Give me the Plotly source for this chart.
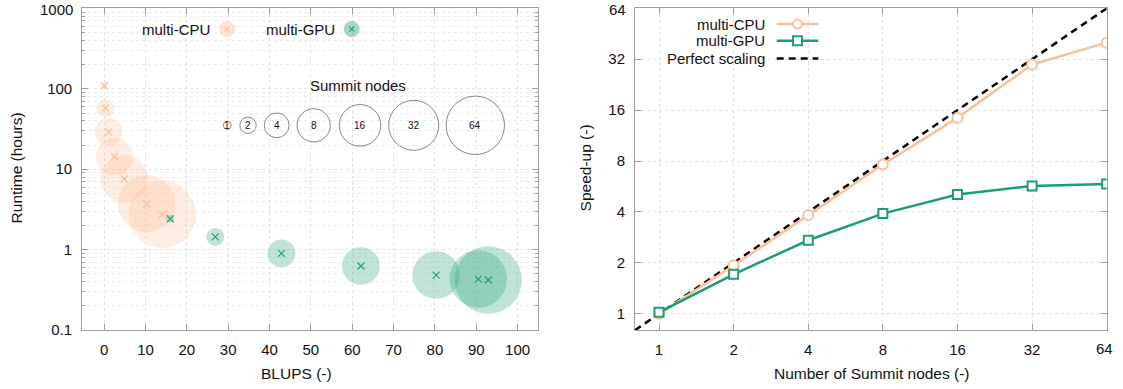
import math
import plotly.graph_objects as go

# ---------------- data ----------------
nodes = [1, 2, 4, 8, 16, 32, 64]
node_labels = ["1", "2", "4", "8", "16", "32", "64"]

cpu_blups = [0.07, 0.3, 1.1, 2.5, 4.9, 10.3, 14.1]
cpu_runtime = [108.6, 57.3, 29.0, 14.4, 7.6, 3.72, 2.74]
gpu_blups = [16.0, 26.9, 42.9, 62.1, 80.3, 90.5, 92.9]
gpu_runtime = [2.42, 1.44, 0.90, 0.627, 0.484, 0.432, 0.42]

cpu_speedup = [1.0, 1.93, 3.82, 7.63, 14.4, 29.8, 40.1]
gpu_speedup = [1.02, 1.71, 2.72, 3.91, 5.07, 5.70, 5.86]
perfect_nodes = [0.8, 64]
perfect_speedup = [0.8, 64]

runtime_ticks = [0.1, 1, 10, 100, 1000]
runtime_tick_text = ["0.1", "1", "10", "100", "1000"]

# ---------------- styles ----------------
W, H = 1114, 398          # figure size (captured area is rescaled to 1123x389)
REF_W, REF_H = 1114, 389  # reference-pixel coordinate frame
FONT = "Liberation Sans, Arial, sans-serif"
CPU_LINE = "#FBC09A"
CPU_X = "#F8BE9C"
CPU_FILL = "rgba(250,180,135,0.35)"
GPU = "#1b9e77"
GPU_FILL = "rgba(27,158,119,0.40)"
AXIS = "#a0a0a0"
GRID = "#e2e2e2"


def px(x):
    return x / REF_W


def py(y):
    return 1 - y / REF_H


def bubble_d(n):
    return 2 * (4 + 4.95 * math.log2(n))


def legend_r(n):
    return 4 + 4.2 * math.log2(n)


fig = go.Figure()

# ---------------- left panel ----------------
fig.add_trace(go.Scatter(
    x=cpu_blups, y=cpu_runtime, mode="markers", xaxis="x", yaxis="y",
    marker=dict(size=[bubble_d(n) for n in nodes], color=CPU_FILL, line=dict(width=0)),
    hoverinfo="skip", showlegend=False))
fig.add_trace(go.Scatter(
    x=gpu_blups, y=gpu_runtime, mode="markers", xaxis="x", yaxis="y",
    marker=dict(size=[bubble_d(n) for n in nodes], color=GPU_FILL, line=dict(width=0)),
    hoverinfo="skip", showlegend=False))
fig.add_trace(go.Scatter(
    x=cpu_blups, y=cpu_runtime, mode="markers", xaxis="x", yaxis="y",
    marker=dict(symbol="x-thin", size=7, line=dict(width=1.1, color=CPU_X)),
    showlegend=False))
fig.add_trace(go.Scatter(
    x=gpu_blups, y=gpu_runtime, mode="markers", xaxis="x", yaxis="y",
    marker=dict(symbol="x-thin", size=7, line=dict(width=1.1, color=GPU)),
    showlegend=False))

# ---------------- right panel ----------------
fig.add_trace(go.Scatter(
    x=perfect_nodes, y=perfect_speedup, mode="lines", xaxis="x2", yaxis="y2",
    line=dict(color="black", width=2.5, dash="7px,5px"), showlegend=False))
fig.add_trace(go.Scatter(
    x=nodes, y=cpu_speedup, mode="lines+markers", xaxis="x2", yaxis="y2",
    line=dict(color=CPU_LINE, width=2.5),
    marker=dict(symbol="circle", size=10, color="white", line=dict(color=CPU_LINE, width=2)),
    showlegend=False))
fig.add_trace(go.Scatter(
    x=nodes, y=gpu_speedup, mode="lines+markers", xaxis="x2", yaxis="y2",
    line=dict(color=GPU, width=2.5),
    marker=dict(symbol="square", size=9, color="white", line=dict(color=GPU, width=2)),
    showlegend=False))

axis_common = dict(
    showline=True, linecolor=AXIS, linewidth=1, mirror="ticks",
    ticks="inside", ticklen=6, tickcolor=AXIS, tickwidth=1,
    showgrid=True, gridcolor=GRID, griddash="dot", gridwidth=1,
    zeroline=False, tickfont=dict(size=15, color="#111", family=FONT),
)
xstand = 6
ystand = 6

log_minor = [m * 10 ** e for e in range(-1, 3) for m in range(2, 10)]
r2 = [math.log10(0.8), math.log10(64)]

fig.update_layout(
    width=W, height=H,
    margin=dict(l=0, r=0, t=0, b=0),
    paper_bgcolor="white", plot_bgcolor="white",
    font=dict(family=FONT, size=15, color="#111"),
    showlegend=False,
    xaxis=dict(axis_common, domain=[px(82.2), px(538.3)], range=[-5.3, 105],
               tickvals=[0, 10, 20, 30, 40, 50, 60, 70, 80, 90, 100], anchor="y",
               ticklabelstandoff=xstand),
    yaxis=dict(axis_common, domain=[py(329.3), py(8.3)], type="log", range=[-1, 3],
               tickvals=runtime_ticks, ticktext=runtime_tick_text[:-1] + [""],
               anchor="x", ticklabelstandoff=ystand,
               minor=dict(tickvals=log_minor, ticks="inside", ticklen=3, tickcolor=AXIS,
                          showgrid=True, gridcolor="#ececec", griddash="dot")),
    xaxis2=dict(axis_common, domain=[px(635), px(1106.7)], type="log", range=r2,
                tickvals=nodes, ticktext=node_labels[:-1] + [""], anchor="y2",
                ticklabelstandoff=xstand),
    yaxis2=dict(axis_common, domain=[py(329.3), py(8.3)], type="log", range=r2,
                tickvals=nodes, ticktext=node_labels[:-1] + [""], anchor="x2",
                ticklabelstandoff=ystand),
)

shapes = []
annotations = []


def ann(text, x, y, xanchor="center", size=15, angle=0, yanchor="middle"):
    return dict(text=text, x=px(x), y=py(y), xref="paper", yref="paper",
                xanchor=xanchor, yanchor=yanchor, showarrow=False,
                textangle=angle, font=dict(size=size))


# edge tick labels kept inside the page
annotations.append(dict(text=runtime_tick_text[-1], x=px(74), y=1, xref="paper",
                        yref="paper", xanchor="right", yanchor="top", showarrow=False,
                        borderpad=0, font=dict(size=15)))
annotations.append(dict(text=node_labels[-1], x=px(626.6), y=1, xref="paper",
                        yref="paper", xanchor="right", yanchor="top", showarrow=False,
                        borderpad=0, font=dict(size=15)))
annotations.append(dict(text=node_labels[-1], x=1, y=py(347.5), xref="paper",
                        yref="paper", xanchor="right", yanchor="middle", showarrow=False,
                        borderpad=0, font=dict(size=15)))

# axis titles
annotations += [
    ann("BLUPS (-)", 296, 373, size=15.5),
    ann("Number of Summit nodes (-)", 871.6, 373, size=15.5),
    ann("Runtime (hours)", 16, 168, size=15.5, angle=-90),
    ann("Speed-up (-)", 585, 168, size=15.5, angle=-90),
]


def pcircle(cx, cy, r, **kw):
    return dict(type="circle", xref="paper", yref="paper", xsizemode="pixel",
                ysizemode="pixel", xanchor=px(cx), yanchor=py(cy),
                x0=-r, x1=r, y0=-r, y1=r, **kw)


def pcross(cx, cy, s, color):
    out = []
    for a, b in ((-s, s), (s, -s)):
        out.append(dict(type="line", xref="paper", yref="paper", xsizemode="pixel",
                        ysizemode="pixel", xanchor=px(cx), yanchor=py(cy),
                        x0=-s, x1=s, y0=a, y1=b, line=dict(color=color, width=1.1)))
    return out


# left legend (series)
for label, tx, cx, fill, xc in (("multi-CPU", 212.3, 227, CPU_FILL, CPU_X),
                                ("multi-GPU", 337, 351.7, GPU_FILL, GPU)):
    annotations.append(ann(label, tx, 29, xanchor="right"))
    shapes.append(pcircle(cx, 29, 8, fillcolor=fill, line=dict(width=0)))
    shapes += pcross(cx, 29, 2.5, xc)

# size legend
annotations.append(ann("Summit nodes", 358.3, 85.7))
size_leg_x = [227.3, 248, 276.7, 313.7, 360, 413.7, 475.3]
for n, lab, cx in zip(nodes, node_labels, size_leg_x):
    shapes.append(pcircle(cx, 125, legend_r(n), line=dict(color="#888888", width=1)))
    annotations.append(ann(lab, cx, 125, size=10))

# right legend
rows = [("multi-CPU", 24), ("multi-GPU", 40.7), ("Perfect scaling", 58.3)]
for label, yy in rows:
    annotations.append(ann(label, 767.3, yy, xanchor="right"))
shapes.append(dict(type="line", xref="paper", yref="paper", x0=px(776.7), x1=px(818.3),
                   y0=py(24), y1=py(24), line=dict(color=CPU_LINE, width=2.5)))
shapes.append(pcircle(797.5, 24, 4.5, fillcolor="white", line=dict(color=CPU_LINE, width=2)))
shapes.append(dict(type="line", xref="paper", yref="paper", x0=px(776.7), x1=px(818.3),
                   y0=py(40.7), y1=py(40.7), line=dict(color=GPU, width=2.5)))
shapes.append(dict(type="rect", xref="paper", yref="paper", xsizemode="pixel",
                   ysizemode="pixel", xanchor=px(797.5), yanchor=py(40.7),
                   x0=-4.5, x1=4.5, y0=-4.5, y1=4.5, fillcolor="white",
                   line=dict(color=GPU, width=2)))
shapes.append(dict(type="line", xref="paper", yref="paper", x0=px(776.7), x1=px(818.3),
                   y0=py(58.3), y1=py(58.3), line=dict(color="black", width=2.5,
                                                       dash="7px,5px")))

fig.update_layout(shapes=shapes, annotations=annotations)
fig.write_html(
    "out.html",
    config={"displayModeBar": False},
    post_script="document.body.style.margin='0';document.documentElement.style.overflow='hidden';",
)
